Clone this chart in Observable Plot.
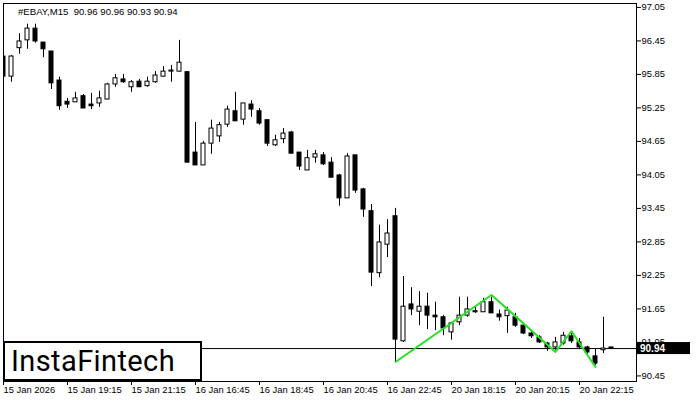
<!DOCTYPE html>
<html><head><meta charset="utf-8">
<script src="https://cdn.jsdelivr.net/npm/d3@7"></script>
<script src="https://cdn.jsdelivr.net/npm/@observablehq/plot@0.6"></script>
<style>
html,body{margin:0;padding:0;background:#fff;}
#wrap{position:relative;width:700px;height:400px;overflow:hidden;background:#fff;}
#title{position:absolute;left:18px;top:6px;font:9.6px "Liberation Sans",Arial,sans-serif;color:#000;white-space:pre;}
#logo{position:absolute;left:3px;top:341px;width:189px;height:36px;border:2px solid #000;background:#fff;
  font:400 29px Roboto,"Liberation Sans",sans-serif;letter-spacing:0.4px;color:#000;line-height:37px;padding-left:6px;box-sizing:content-box;}
</style></head>
<body><div id="wrap"><div id="title">#EBAY,M15  90.96 90.96 90.93 90.94</div></div>
<script>
const symbol = "#EBAY,M15";
const openP  = [96.17,95.81,96.32,96.46,96.67,96.42,96.26,95.74,95.36,95.35,95.46,95.31,95.33,95.40,95.67,95.76,95.62,95.72,95.64,95.71,95.81,95.90,95.90,95.89,94.45,94.22,94.61,94.74,94.95,95.19,95.04,95.31,95.19,95.03,94.58,94.69,94.81,94.45,94.13,94.36,94.40,94.27,94.04,93.63,94.40,93.79,93.40,92.29,92.80,93.31,91.07,91.73,91.60,91.69,91.53,91.50,91.23,91.41,91.53,91.59,91.59,91.77,91.55,91.52,91.50,91.35,91.21,91.14,91.03,90.96,91.03,91.16,91.05,90.96,90.80,90.91,90.96];
const highP  = [96.21,96.19,96.58,96.75,96.75,96.42,96.26,95.80,95.42,95.53,95.49,95.51,95.55,95.69,95.85,95.85,95.74,95.76,95.80,95.90,95.99,96.01,96.46,95.90,94.99,94.65,95.03,94.99,95.28,95.53,95.33,95.38,95.24,95.03,94.76,94.88,94.83,94.45,94.49,94.49,94.45,94.36,94.06,94.43,94.40,93.81,93.52,93.15,93.25,93.45,92.23,92.03,91.96,91.93,91.77,91.53,91.41,91.86,91.86,91.68,91.84,91.86,91.63,91.68,91.57,91.39,91.25,91.17,91.05,91.14,91.23,91.23,91.12,90.98,90.94,91.50,90.96];
const lowP   = [95.74,95.71,96.21,96.30,96.41,96.15,95.58,95.21,95.24,95.35,95.24,95.22,95.26,95.40,95.62,95.69,95.53,95.62,95.62,95.69,95.80,95.71,95.89,94.26,94.22,94.22,94.42,94.63,94.90,95.01,94.94,95.08,94.94,94.56,94.56,94.61,94.43,94.13,94.13,94.26,94.22,94.00,93.49,93.63,93.72,93.29,92.05,92.21,92.57,90.69,91.05,91.53,91.35,91.28,91.26,91.17,91.09,91.35,91.50,91.57,91.59,91.57,91.43,91.21,91.32,91.19,91.12,91.03,90.89,90.91,91.00,91.03,90.92,90.83,90.64,90.85,90.93];
const closeP = [95.81,96.17,96.44,96.67,96.44,96.30,95.69,95.28,95.31,95.42,95.24,95.28,95.42,95.67,95.78,95.71,95.71,95.62,95.72,95.83,95.90,95.92,96.06,94.27,94.22,94.61,94.88,94.94,95.22,95.01,95.33,95.22,94.97,94.61,94.67,94.79,94.43,94.20,94.35,94.42,94.24,94.00,93.63,94.38,93.77,93.43,92.30,92.84,93.00,91.10,91.69,91.64,91.69,91.53,91.50,91.30,91.39,91.53,91.64,91.61,91.77,91.57,91.50,91.62,91.35,91.21,91.16,91.05,90.96,91.05,91.17,91.07,90.96,90.87,90.67,90.94,90.94];
const tickIdx = [0,8,16,24,32,40,48,56,64,72];
const tickLabels = ["15 Jan 2026","15 Jan 19:15","15 Jan 21:15","16 Jan 16:45","16 Jan 18:45","16 Jan 20:45","16 Jan 22:45","20 Jan 18:15","20 Jan 20:15","20 Jan 22:15"];
const yTicks = [90.45,91.05,91.65,92.25,92.85,93.45,94.05,94.65,95.25,95.85,96.45,97.05];
const patternIdx = [49,61,69,71,74];
const patternPrice = [90.70,91.90,90.88,91.25,90.61];
const lastPrice = 90.94;

const candles = openP.map((o,i)=>({i, o, h: highP[i], l: lowP[i], c: closeP[i]}));
const pattern = patternIdx.map((i,k)=>({i, p: patternPrice[k]}));
const labelOf = new Map(tickIdx.map((t,k)=>[t, tickLabels[k]]));

const chart = Plot.plot({
  width: 700, height: 400,
  marginTop: 3, marginBottom: 19, marginLeft: 3, marginRight: 64,
  style: {fontFamily: "'Liberation Sans', Arial, sans-serif", fontSize: "9.4px", color: "#000", background: "#fff", overflow: "visible"},
  x: {type: "linear", domain: [0, 79.125]},
  y: {domain: [90.35, 97.12]},
  marks: [
    Plot.ruleY([lastPrice], {stroke: "#000"}),
    Plot.ruleX(candles, {x: "i", y1: "l", y2: "h", stroke: "#000", clip: true}),
    Plot.rect(candles, {x1: d => d.i - 0.25, x2: d => d.i + 0.25, y1: "o", y2: "c",
      fill: d => d.c >= d.o ? "#fff" : "#000", stroke: "#000", clip: true}),
    Plot.line(pattern, {x: "i", y: "p", stroke: "#22e322", strokeWidth: 2}),
    Plot.frame({stroke: "#000"}),
    Plot.axisX({anchor: "bottom", ticks: tickIdx, tickFormat: d => labelOf.get(d), textAnchor: "start",
      tickSize: 4, tickPadding: 1, label: null}),
    Plot.axisY({anchor: "right", ticks: yTicks, tickFormat: d3.format(".2f"), tickSize: 4, tickPadding: 1, label: null})
  ]
});
document.getElementById("wrap").prepend(chart);
chart.style.position = "absolute"; chart.style.left = "0"; chart.style.top = "0";

const yScale = chart.scale("y");
const yy = yScale.apply(lastPrice);
const svg = d3.select(chart);
const g = svg.append("g");
g.append("rect").attr("x", 700 - 64 + 1).attr("y", yy - 6).attr("width", 53).attr("height", 12).attr("fill", "#000");
g.append("text").attr("x", 700 - 64 + 4).attr("y", yy).attr("dy", "0.35em").attr("fill", "#fff")
  .attr("text-anchor", "start")
  .style("font", "bold 10px 'Liberation Sans', Arial, sans-serif").text(d3.format(".2f")(lastPrice));

const logo = document.createElement("div");
logo.id = "logo";
logo.textContent = "InstaFintech";
document.getElementById("wrap").appendChild(logo);
</script>
</body></html>
